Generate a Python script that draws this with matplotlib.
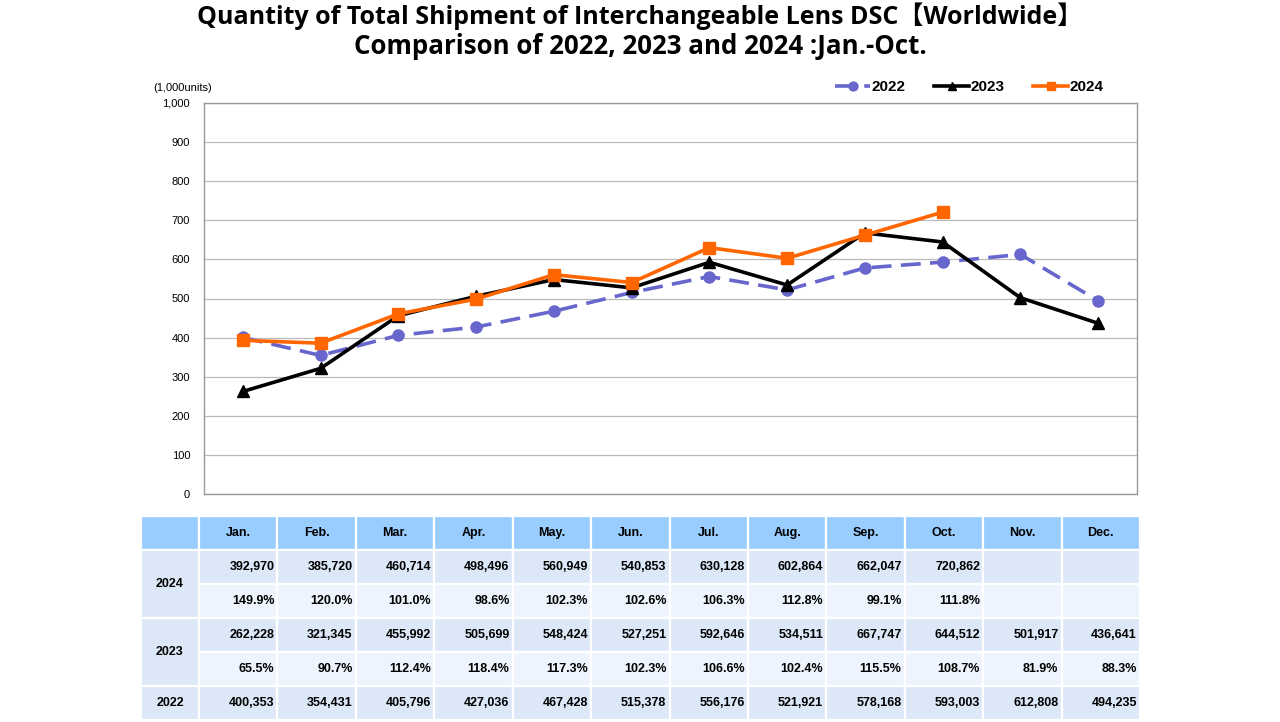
import matplotlib
matplotlib.use("Agg")
import matplotlib.pyplot as plt
from matplotlib.patches import Rectangle
import numpy as np

months = ["Jan.", "Feb.", "Mar.", "Apr.", "May.", "Jun.", "Jul.", "Aug.", "Sep.", "Oct.", "Nov.", "Dec."]
ship_2022 = [400353, 354431, 405796, 427036, 467428, 515378, 556176, 521921, 578168, 593003, 612808, 494235]
ship_2023 = [262228, 321345, 455992, 505699, 548424, 527251, 592646, 534511, 667747, 644512, 501917, 436641]
ship_2024 = [392970, 385720, 460714, 498496, 560949, 540853, 630128, 602864, 662047, 720862]
pct_2023 = ["65.5%", "90.7%", "112.4%", "118.4%", "117.3%", "102.3%", "106.6%", "102.4%", "115.5%", "108.7%", "81.9%", "88.3%"]
pct_2024 = ["149.9%", "120.0%", "101.0%", "98.6%", "102.3%", "102.6%", "106.3%", "112.8%", "99.1%", "111.8%"]
yticks = [0, 100, 200, 300, 400, 500, 600, 700, 800, 900, 1000]

W, H = 1280, 722
fig = plt.figure(figsize=(12.8, 7.22), dpi=100)
fig.patch.set_facecolor("white")

def fx(px):
    return px / W

def fy(py):
    return 1 - py / H

title_font = ["Open Sans", "Noto Sans CJK JP", "DejaVu Sans"]
fig.text(0.5, fy(16), "Quantity of Total Shipment of Interchangeable Lens DSC【Worldwide】",
         ha="center", va="center", fontsize=18, fontweight="bold", family=title_font)
fig.text(0.5, fy(46), "Comparison of 2022, 2023 and 2024 :Jan.-Oct.",
         ha="center", va="center", fontsize=18.6, fontweight="bold", family=title_font)

tfont = "Liberation Sans"

# Line chart
ax = fig.add_axes([fx(204), fy(494), fx(1137 - 204), (494 - 103) / H])
x = np.arange(12) + 0.5
ax.plot(x, np.array(ship_2022) / 1000, color="#6666CC", lw=2.6, ls=(0, (5.5, 2.6)),
        marker="o", ms=8, label="2022", zorder=3)
ax.plot(x, np.array(ship_2023) / 1000, color="black", lw=2.6,
        marker="^", ms=8, label="2023", zorder=4)
ax.plot(x[:len(ship_2024)], np.array(ship_2024) / 1000, color="#FF6600", lw=2.6,
        marker="s", ms=8, label="2024", zorder=5)
ax.set_xlim(0, 12)
ax.set_ylim(0, 1000)
ax.set_yticks(yticks)
ax.set_yticklabels([f"{v:,}" for v in yticks], fontsize=8, family=tfont)
ax.set_xticks([])
ax.grid(axis="y", color="#BBBBBB", lw=0.9)
ax.set_axisbelow(True)
for s in ax.spines.values():
    s.set_color("#999999")
    s.set_linewidth(1)
ax.tick_params(axis="y", length=0, pad=10)
fig.text(fx(153), fy(88), "(1,000units)", fontsize=8, va="center", ha="left", family=tfont)
handles, labels = ax.get_legend_handles_labels()
leg = fig.legend(handles, labels, loc="center right", bbox_to_anchor=(fx(1103), fy(87)),
                 ncol=3, frameon=False, prop={"weight": "bold", "size": 11, "family": tfont},
                 handlelength=2.3, columnspacing=1.9, handletextpad=0.05, borderaxespad=0,
                 borderpad=0, markerscale=0.8)

# Table
tax = fig.add_axes([fx(141), fy(720), fx(1140 - 141), (720 - 516) / H])
first_w = (199 - 141) / ((1140 - 199) / 12)
tax.set_xlim(-first_w, 12)
tax.set_ylim(0, 6)
tax.axis("off")
hdr_c = "#99CCFF"
dark_c = "#DCE8F8"
light_c = "#EDF4FD"
lw = 1.6

def cell(x0, y0, w, h, color, text=None, ha="center"):
    tax.add_patch(Rectangle((x0, y0), w, h, facecolor=color, edgecolor="white", lw=lw))
    if text is not None:
        if ha == "right":
            tax.text(x0 + w - 0.04, y0 + h / 2, text, ha="right", va="center",
                     fontsize=9, fontweight="bold", family=tfont)
        else:
            tax.text(x0 + w / 2, y0 + h / 2, text, ha="center", va="center",
                     fontsize=9, fontweight="bold", family=tfont)

# header row
cell(-first_w, 5, first_w, 1, hdr_c)
for i, m in enumerate(months):
    cell(i, 5, 1, 1, hdr_c, m)

rows = [
    ("2024", [f"{v:,}" for v in ship_2024], pct_2024),
    ("2023", [f"{v:,}" for v in ship_2023], pct_2023),
]
ytop = 5
for label, vals, pcts in rows:
    cell(-first_w, ytop - 2, first_w, 2, dark_c, label)
    for i in range(12):
        cell(i, ytop - 1, 1, 1, dark_c, vals[i] if i < len(vals) else None, ha="right")
        cell(i, ytop - 2, 1, 1, light_c, pcts[i] if i < len(pcts) else None, ha="right")
    ytop -= 2
cell(-first_w, 0, first_w, 1, dark_c, "2022")
for i in range(12):
    cell(i, 0, 1, 1, dark_c, f"{ship_2022[i]:,}", ha="right")

fig.savefig("out.png", dpi=100, facecolor="white")
